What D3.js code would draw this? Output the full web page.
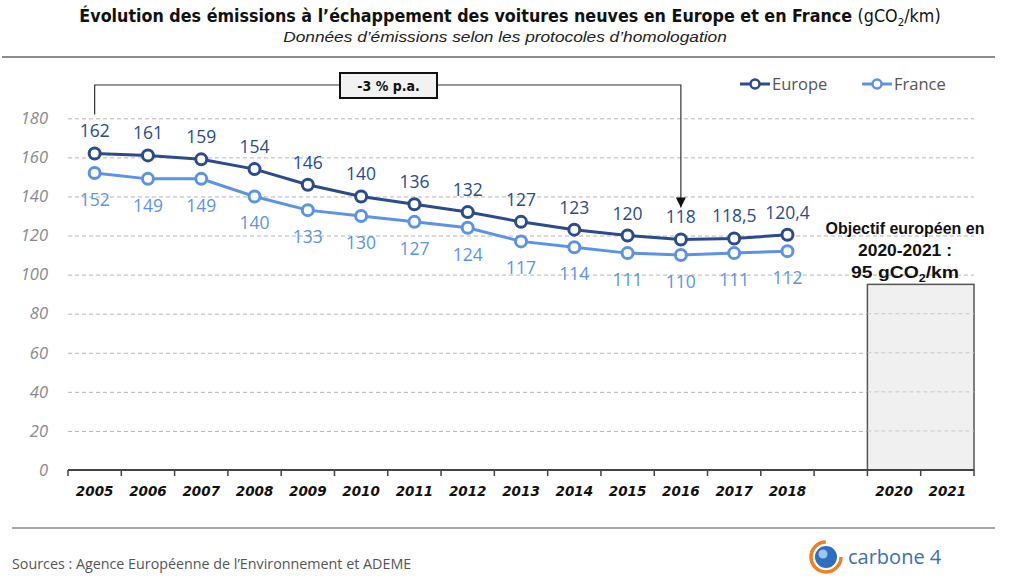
<!DOCTYPE html>
<html><head><meta charset="utf-8">
<script src="https://cdn.jsdelivr.net/npm/d3@7"></script>
<style>body{margin:0;background:#fff}svg{display:block}</style>
</head><body>
<svg id="c" width="1024" height="582"></svg>
<script>
const categories = ["2005","2006","2007","2008","2009","2010","2011","2012","2013","2014","2015","2016","2017","2018","2019","2020","2021"];
const years = ["2005","2006","2007","2008","2009","2010","2011","2012","2013","2014","2015","2016","2017","2018"];
const europe = [162,161,159,154,146,140,136,132,127,123,120,118,118.5,120.4];
const france = [152,149,149,140,133,130,127,124,117,114,111,110,111,112];
const xLabels = ["2005","2006","2007","2008","2009","2010","2011","2012","2013","2014","2015","2016","2017","2018","","2020","2021"];
const yTicks = [0,20,40,60,80,100,120,140,160,180];
const target = 95;

const svg = d3.select("#c");
const x = d3.scaleBand().domain(categories).range([68,974]).paddingInner(0).paddingOuter(0);
const y = d3.scaleLinear().domain([0,180]).range([470,118.3]);
const cx = d => x(d) + x.bandwidth()/2;
const fmt = v => String(v).replace(".", ",");

function fitWidth(sel, cxp, w){
  const bb = sel.node().getBBox();
  const s = w / bb.width;
  sel.attr("transform", `translate(${cxp},0) scale(${s},1) translate(${-cxp},0)`);
}

// separators
svg.append("line").attr("x1",2).attr("x2",995).attr("y1",57).attr("y2",57).attr("stroke","#8c8c8c").attr("stroke-width",2);
svg.append("line").attr("x1",12).attr("x2",995).attr("y1",528).attr("y2",528).attr("stroke","#8c8c8c").attr("stroke-width",1.5);

// title
const t = svg.append("text").attr("x",510).attr("y",22).attr("text-anchor","middle")
  .style("font-family","'Liberation Sans Narrow','DejaVu Sans Condensed',sans-serif").style("font-size","17px").attr("fill","#111");
t.append("tspan").style("font-weight","bold").text("Évolution des émissions à l’échappement des voitures neuves en Europe et en France ");
t.append("tspan").text("(gCO");
t.append("tspan").attr("dy",4).style("font-size","11px").text("2");
t.append("tspan").attr("dy",-4).text("/km)");
fitWidth(t, 510, 862);
const st = svg.append("text").attr("x",505).attr("y",42).attr("text-anchor","middle")
  .style("font-family","'Liberation Sans Narrow',sans-serif").style("font-style","italic").style("font-size","14.5px").attr("fill","#222")
  .text("Données d’émissions selon les protocoles d’homologation");
fitWidth(st, 505, 444);

// gridlines
const gAxisY = svg.append("g").attr("transform","translate(68,0)")
  .call(d3.axisLeft(y).tickValues(yTicks).tickSize(-(974-68)).tickFormat(d3.format("d")));
gAxisY.select(".domain").remove();
gAxisY.selectAll(".tick line").attr("stroke","#b5b5b5").attr("stroke-dasharray","4,3").attr("stroke-width",1)
  .filter(d => d===0).remove();
gAxisY.selectAll(".tick text").attr("x",-20).attr("fill","#8a8a8a")
  .style("font-family","'Open Sans',sans-serif").style("font-style","italic").style("font-size","16.5px");

// target box
svg.append("rect").attr("x",x("2020")).attr("width",x("2021")+x.bandwidth()-x("2020"))
  .attr("y",y(target)).attr("height",y(0)-y(target)).attr("fill","#f0f0f0").attr("stroke","#555").attr("stroke-width",1.5);
svg.append("g").selectAll("line").data(yTicks.filter(d=>d>0 && d<target)).join("line")
  .attr("x1",x("2020")).attr("x2",974).attr("y1",d=>y(d)).attr("y2",d=>y(d))
  .attr("stroke","#c8c8c8").attr("stroke-dasharray","4,3");

// x axis
const gx = svg.append("g").attr("transform","translate(0,470)")
  .call(d3.axisBottom(x).tickSize(6).tickFormat((d,i)=>xLabels[i]));
gx.select(".domain").attr("stroke","#444").attr("stroke-width",2).attr("d","M68,0H974");
gx.selectAll(".tick line").remove();
gx.selectAll(".tk").data(d3.range(categories.length+1)).join("line")
  .attr("x1",i=>68+i*x.bandwidth()).attr("x2",i=>68+i*x.bandwidth()).attr("y1",0).attr("y2",6).attr("stroke","#444").attr("stroke-width",1.5);
gx.selectAll(".tick text").attr("y",16).attr("fill","#111")
  .style("font-family","'DejaVu Sans',sans-serif").style("font-weight","bold").style("font-style","italic").style("font-size","13.5px");

// lines
const cEu = "#2c4b8d", cFr = "#5d93e6";
const line = d3.line().x((d,i)=>cx(years[i])).y(d=>y(d));
[[france,cFr],[europe,cEu]].forEach(([data,col])=>{
  svg.append("path").datum(data).attr("d",line).attr("fill","none").attr("stroke",col).attr("stroke-width",3);
  svg.append("g").selectAll("circle").data(data).join("circle")
    .attr("cx",(d,i)=>cx(years[i])).attr("cy",d=>y(d)).attr("r",5.5)
    .attr("fill","#fff").attr("stroke",col).attr("stroke-width",3);
});
const lblFont = "'Open Sans',sans-serif";
svg.append("g").selectAll("text").data(europe).join("text")
  .attr("x",(d,i)=>cx(years[i])).attr("y",d=>y(d)-16).attr("text-anchor","middle")
  .attr("fill","#2c4b8d").style("font-family",lblFont).style("font-size","17.5px").text(fmt);
svg.append("g").selectAll("text").data(france).join("text")
  .attr("x",(d,i)=>cx(years[i])).attr("y",d=>y(d)+33).attr("text-anchor","middle")
  .attr("fill","#5d93e6").style("font-family",lblFont).style("font-size","17.5px").text(fmt);

// annotation -3 % p.a.
const ax0 = cx("2005"), ax1 = cx("2016");
svg.append("path").attr("d",`M${ax0},${y(europe[0])-39}V85H340M437,85H${ax1}V${y(118)-32}`)
  .attr("fill","none").attr("stroke","#333").attr("stroke-width",1.2);
svg.append("path").attr("d",`M${ax1-5},${y(118)-42}L${ax1+5},${y(118)-42}L${ax1},${y(118)-32}Z`).attr("fill","#111");
svg.append("rect").attr("x",340).attr("y",73).attr("width",97).attr("height",25).attr("fill","#f2f2f2").attr("stroke","#111").attr("stroke-width",2);
svg.append("text").attr("x",388.5).attr("y",91).attr("text-anchor","middle")
  .style("font-family","'DejaVu Sans Condensed','DejaVu Sans',sans-serif").style("font-weight","bold").style("font-size","14px").attr("fill","#111").text("-3 % p.a.");

// legend
const leg = [["Europe",cEu,740],["France",cFr,862]];
leg.forEach(([name,col,lx])=>{
  svg.append("line").attr("x1",lx).attr("x2",lx+30).attr("y1",84).attr("y2",84).attr("stroke",col).attr("stroke-width",3);
  svg.append("circle").attr("cx",lx+15).attr("cy",84).attr("r",4.5).attr("fill","#fff").attr("stroke",col).attr("stroke-width",2.5);
  svg.append("text").attr("x",lx+32).attr("y",90).attr("fill","#555").style("font-family","'Open Sans',sans-serif").style("font-size","16.5px").text(name);
});

// objective text
const ocx = 905;
const obFont = "'Liberation Sans',Arial,sans-serif";
const ob1 = svg.append("text").attr("text-anchor","middle").attr("fill","#111").attr("x",ocx).attr("y",234)
  .style("font-family",obFont).style("font-weight","bold").style("font-size","17px").text("Objectif européen en");
fitWidth(ob1, ocx, 159);
const ob2 = svg.append("text").attr("text-anchor","middle").attr("fill","#111").attr("x",ocx).attr("y",256)
  .style("font-family",obFont).style("font-weight","bold").style("font-size","17px").text("2020-2021 :");
fitWidth(ob2, ocx, 94);
const ob3 = svg.append("text").attr("text-anchor","middle").attr("fill","#111").attr("x",ocx).attr("y",278)
  .style("font-family",obFont).style("font-weight","bold").style("font-size","17px");
ob3.append("tspan").text("95 gCO");
ob3.append("tspan").attr("dy",4).style("font-size","11px").text("2");
ob3.append("tspan").attr("dy",-4).text("/km");
fitWidth(ob3, ocx, 108);

// sources
svg.append("text").attr("x",12).attr("y",569).attr("fill","#555").style("font-family","'Open Sans',sans-serif").style("font-size","14.3px")
  .text("Sources : Agence Européenne de l’Environnement et ADEME");

// logo
const lg = svg.append("g").attr("transform","translate(826,557)");
lg.append("circle").attr("r",15).attr("fill","none").attr("stroke","#f08020").attr("stroke-width",3.5).attr("stroke-dasharray","70,24");
lg.append("circle").attr("r",11).attr("fill","#2f6fc0");
lg.append("circle").attr("cx",-3).attr("cy",-3).attr("r",4.5).attr("fill","#9cc6f0");
svg.append("text").attr("x",848).attr("y",564).attr("fill","#3a6fb5").style("font-family","'Open Sans',sans-serif").style("font-size","20px").text("carbone 4");
</script>
</body></html>
